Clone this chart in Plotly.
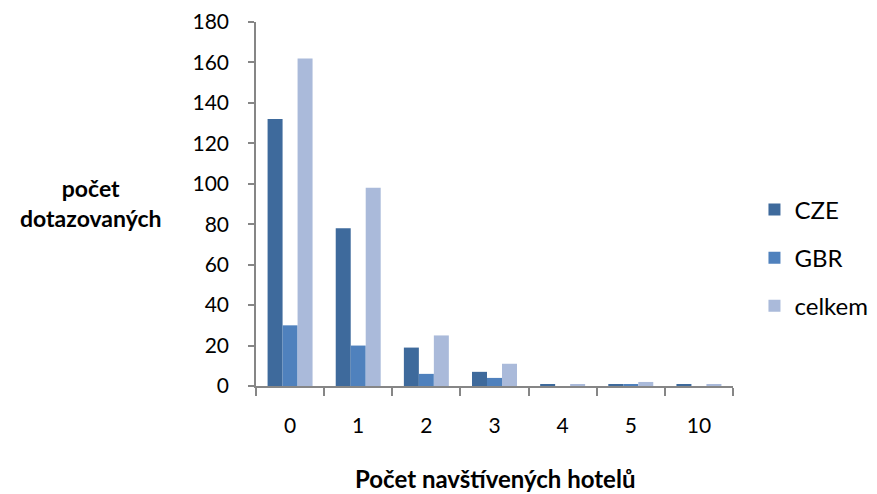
import plotly.graph_objects as go

categories = ["0", "1", "2", "3", "4", "5", "10"]
cze = [132, 78, 19, 7, 1, 1, 1]
gbr = [30, 20, 6, 4, 0, 1, 0]
celkem = [162, 98, 25, 11, 1, 2, 1]

series = [
    ("CZE", cze, "#3E6A9C"),
    ("GBR", gbr, "#4F81BD"),
    ("celkem", celkem, "#AABADA"),
]

font_family = "Lato, 'Open Sans', sans-serif"

fig = go.Figure()
for name, vals, color in series:
    fig.add_trace(go.Bar(
        x=categories, y=vals, name=name, legendgroup=name,
        marker=dict(color=color, line=dict(width=0)),
    ))

fig.update_layout(
    width=877, height=494,
    margin=dict(l=256, r=144, t=22, b=108, autoexpand=False),
    paper_bgcolor="white", plot_bgcolor="white",
    barmode="group", bargap=0.34, bargroupgap=0,
    font=dict(family=font_family, size=21, color="black"),
    legend=dict(
        x=1.045, y=0.352, xanchor="left", yanchor="middle",
        traceorder="grouped", tracegroupgap=14,
        font=dict(size=24), itemwidth=30,
    ),
    xaxis=dict(
        type="category", showline=True, linecolor="#868686", linewidth=1.5,
        ticks="outside", tickson="boundaries", ticklen=8, tickcolor="#868686",
        tickwidth=1.5, ticklabelstandoff=20, showgrid=False,
    ),
    yaxis=dict(
        range=[0, 180], dtick=20, showline=True, linecolor="#868686",
        linewidth=1.5, ticks="outside", ticklen=6, tickcolor="#868686",
        tickwidth=1.5, ticklabelstandoff=15, showgrid=False, zeroline=False,
    ),
    annotations=[
        dict(text="<b>počet<br>dotazovaných</b>", xref="paper", yref="paper",
             x=-0.346, y=0.503, showarrow=False, font=dict(size=23),
             xanchor="center", yanchor="middle", align="center"),
        dict(text="<b>Počet navštívených hotelů</b>", xref="paper", yref="paper",
             x=0.5, y=-0.255, showarrow=False, font=dict(size=24),
             xanchor="center", yanchor="middle"),
    ],
)

fig.write_html("out.html")
